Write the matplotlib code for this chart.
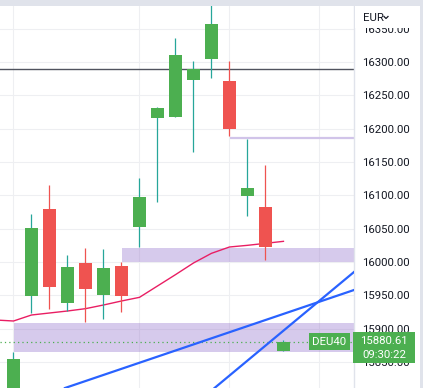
"""
DEU40 candlestick chart with drawings.
"""

import matplotlib
matplotlib.use("Agg")
import matplotlib.pyplot as plt
from matplotlib.patches import Rectangle
from matplotlib.lines import Line2D

plt.rcParams["font.family"] = ["Roboto", "DejaVu Sans"]

# candle data (one per bar, left to right)
opens = [15800, 15949, 16079.5, 15938.5, 15998.5, 15950.5, 15994, 16052.5,
         16216, 16217.5, 16273, 16304.5, 16271.5, 16099, 16082.5, 15866.5]
closes = [15854.5, 16051, 15962.5, 15992.5, 15959.5, 15991, 15949, 16097.5,
          16231, 16310.5, 16289.5, 16357, 16199.5, 16111, 16022.5, 15880.61]
highs = [15865, 16072, 16115.5, 16010.5, 16021, 16019.5, 16000, 16126,
         16232.5, 16336, 16301.5, 16395, 16301.5, 16184.5, 16145.5, 15883]
lows = [15780, 15923.5, 15929.5, 15926.5, 15910, 15914.5, 15925, 16022.5,
        16090, 16217.5, 16165, 16276, 16189, 16069, 16003, 15866.5]

# moving average, starting one bar before the first visible candle
ma_values = [15913, 15911.5, 15920.5, 15923.5, 15926.5, 15930, 15935.5,
             15941.5, 15947, 15964, 15981, 15998.5, 16013, 16022.5, 16025,
             16028, 16031]

# drawings
hline_dark = 16289.5
hline_light = 16186
hline_light_start = 12.03
zone_top = [16000, 16021]
zone_top_start = 6.03
zone_low = [15865, 15908.5]
zone_low_start = 0.03
trend_a_x = [2.86, 18.92]
trend_a_y = [15811, 15958]
trend_b_x = [11.17, 18.92]
trend_b_y = [15811, 15985]

last_price = 15880.61
symbol = "DEU40"
clock = "09:30:22"
currency = "EUR"

price_ticks = [15850, 15900, 15950, 16000, 16050, 16100, 16150, 16200,
               16250, 16300, 16350]
time_grid = [0, 7, 12, 17]

UP = "#4caf50"
UP_WICK = "#26a69a"
DOWN = "#ef5350"
W, H = 423, 388


def px(x, y):
    """
    Pixel position (from top-left) to figure fraction.
    """
    return x / W, 1 - y / H


fig = plt.figure(figsize=(W / 100, H / 100), dpi=100)
fig.patch.set_facecolor("#e0e3eb")
fig.patches.append(Rectangle((0, 0), 420 / W, 382 / H,
                             transform=fig.transFigure,
                             facecolor="white", edgecolor="none",
                             zorder=-1))

ax = fig.add_axes([0, 0, 354 / W, 382 / H])
ax.set_facecolor("white")
ax.set_xlim(-0.75, 18.92)
ax.set_ylim(15811, 16384)

for name in ["top", "left", "bottom"]:
    ax.spines[name].set_visible(False)
ax.spines["right"].set_color("#e0e3eb")
ax.spines["right"].set_linewidth(1)

ax.set_xticks(time_grid)
ax.set_yticks(price_ticks)
ax.set_yticklabels([f"{v:.2f}" for v in price_ticks])
ax.yaxis.tick_right()
ax.tick_params(axis="y", length=0, pad=5.8, labelsize=8.2,
               labelcolor="#131722")
ax.tick_params(axis="x", length=0, labelbottom=False)
ax.grid(True, color="#eeeff2", linewidth=0.8, zorder=0)
ax.set_axisbelow(True)

# zones and levels
xmax = ax.get_xlim()[1]
ax.add_patch(Rectangle((zone_top_start, zone_top[0]),
                       xmax - zone_top_start, zone_top[1] - zone_top[0],
                       facecolor="#9575cd", alpha=0.38, edgecolor="none",
                       zorder=1))
ax.add_patch(Rectangle((zone_low_start, zone_low[0]),
                       xmax - zone_low_start, zone_low[1] - zone_low[0],
                       facecolor="#9575cd", alpha=0.38, edgecolor="none",
                       zorder=1))
ax.axhline(hline_dark, color="#50535e", linewidth=1.0, zorder=2)
ax.hlines(hline_light, hline_light_start, xmax, color="#d1c4e9",
          linewidth=1.6, zorder=2)
ax.axhline(last_price, color=UP, linewidth=0.9, linestyle=(0, (1, 2.5)),
           zorder=2)

# moving average
ma_x = list(range(-1, len(ma_values) - 1))
ax.plot(ma_x, ma_values, color="#e91e63", linewidth=1.0, zorder=2)

# candles
idx = list(range(len(opens)))
for i in idx:
    up = closes[i] >= opens[i]
    ax.vlines(i, lows[i], highs[i], color=UP_WICK if up else DOWN,
              linewidth=0.9, zorder=3)
    ax.bar(i, abs(closes[i] - opens[i]), bottom=min(opens[i], closes[i]),
           width=0.72, color=UP if up else DOWN, zorder=4)

# trend lines
ax.plot(trend_a_x, trend_a_y, color="#2962ff", linewidth=1.6, zorder=5)
ax.plot(trend_b_x, trend_b_y, color="#2962ff", linewidth=1.6, zorder=5)

# symbol label on the last price line
ax.text(17.56, last_price, symbol, color="white", fontsize=8.2,
        ha="center", va="center", zorder=6,
        bbox=dict(boxstyle="square,pad=0.3", facecolor=UP,
                  edgecolor="none"))

# header over the price scale
x0, y0 = px(355, 28)
fig.patches.append(Rectangle((x0, y0), 64 / W, 22 / H,
                             transform=fig.transFigure,
                             facecolor="white", edgecolor="none",
                             zorder=1))
fig.text(*px(363, 18), currency, fontsize=8.2, color="#131722",
         ha="left", va="center", zorder=2)
chev = [px(384, 16.5), px(386, 18.5), px(388, 16.5)]
fig.lines.append(Line2D([c[0] for c in chev], [c[1] for c in chev],
                        transform=fig.transFigure, color="#131722",
                        linewidth=0.9, zorder=2))

# last price label on the scale
x0, y0 = px(353, 363)
fig.patches.append(Rectangle((x0, y0), 62 / W, 31 / H,
                             transform=fig.transFigure,
                             facecolor=UP, edgecolor="none", zorder=1))
fig.text(*px(384, 341), f"{last_price:.2f}", fontsize=8.2, color="white",
         ha="center", va="center", zorder=2)
fig.text(*px(384, 355.5), clock, fontsize=8.2, color="white",
         ha="center", va="center", zorder=2)

fig.savefig("out.png", dpi=100)
